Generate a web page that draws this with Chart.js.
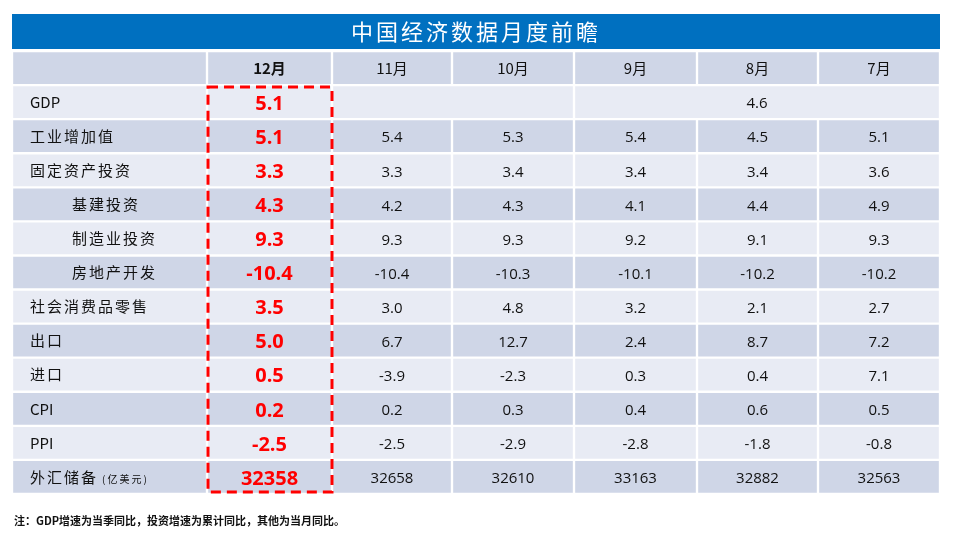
<!DOCTYPE html>
<html><head><meta charset="utf-8">
<script src="https://cdn.jsdelivr.net/npm/chart.js@4"></script>
<style>body{margin:0;background:#fff}#wrap{width:960px;height:540px}</style>
</head><body><div id="wrap"><canvas id="c"></canvas></div>
<script>
// table data
const months = ['12月', '11月', '10月', '9月', '8月', '7月'];
const rowLabels = ['GDP', '工业增加值', '固定资产投资', '基建投资', '制造业投资', '房地产开发',
  '社会消费品零售', '出口', '进口', 'CPI', 'PPI', '外汇储备'];
const indented = [false, false, false, true, true, true, false, false, false, false, false, false];
const dec = ['5.1', '5.1', '3.3', '4.3', '9.3', '-10.4', '3.5', '5.0', '0.5', '0.2', '-2.5', '32358'];
const nov = [null, '5.4', '3.3', '4.2', '9.3', '-10.4', '3.0', '6.7', '-3.9', '0.2', '-2.5', '32658'];
const oct = [null, '5.3', '3.4', '4.3', '9.3', '-10.3', '4.8', '12.7', '-2.3', '0.3', '-2.9', '32610'];
const sep = ['4.6', '5.4', '3.4', '4.1', '9.2', '-10.1', '3.2', '2.4', '0.3', '0.4', '-2.8', '33163'];
const aug = [null, '4.5', '3.4', '4.4', '9.1', '-10.2', '2.1', '8.7', '0.4', '0.6', '-1.8', '32882'];
const jul = [null, '5.1', '3.6', '4.9', '9.3', '-10.2', '2.7', '7.2', '7.1', '0.5', '-0.8', '32563'];
const columns = [dec, nov, oct, sep, aug, jul];
const title = '中国经济数据月度前瞻';
const note = '注：GDP增速为当季同比，投资增速为累计同比，其他为当月同比。';

// layout (chart x units)
const edges = [0, 195, 320, 440, 562, 685, 806, 928];
const rows = ['header'].concat(rowLabels);
const LIGHT = '#e8ebf4', DARK = '#cfd6e7';
const rowColor = (i) => (i === 0 ? DARK : (i % 2 === 1 ? LIGHT : DARK));

function spanFor(col, r) {
  // GDP row merged cells: 11月-10月 empty, 9月-7月 shows value
  if (r === 1 && col >= 1) {
    if (col === 1) return [edges[2], edges[4]];
    if (col === 3) return [edges[4], edges[7]];
    return null;
  }
  return [edges[col + 1], edges[col + 2]];
}

const datasets = [{
  data: rows.map(() => [edges[0], edges[1]]),
  backgroundColor: rows.map((_, i) => rowColor(i)),
}];
months.forEach((m, c) => {
  datasets.push({
    data: rows.map((_, r) => spanFor(c, r)),
    backgroundColor: rows.map((_, i) => rowColor(i)),
  });
});
datasets.forEach((d) => Object.assign(d, {
  borderColor: '#fff', borderWidth: 1.5, borderSkipped: false,
  barPercentage: 1, categoryPercentage: 1, grouped: false,
}));

const textPlugin = {
  id: 'tableText',
  afterDatasetsDraw(chart) {
    const { ctx, scales: { x, y } } = chart;
    ctx.save();
    // title bar
    ctx.fillStyle = '#0070c0';
    ctx.fillRect(x.getPixelForValue(0), 14, x.getPixelForValue(928) - x.getPixelForValue(0), 35);
    ctx.fillStyle = '#fff';
    ctx.font = '22px "Noto Sans CJK SC"';
    ctx.textAlign = 'center';
    ctx.textBaseline = 'middle';
    ctx.letterSpacing = '3px';
    ctx.fillText(title, x.getPixelForValue(464), 32);
    ctx.letterSpacing = '0px';
    // header
    const hy = y.getPixelForValue(0);
    months.forEach((m, c) => {
      ctx.fillStyle = '#111';
      ctx.font = (c === 0 ? 'bold ' : '') + '15px "Noto Sans CJK SC"';
      ctx.fillText(m, x.getPixelForValue((edges[c + 1] + edges[c + 2]) / 2), hy);
    });
    // row labels
    rowLabels.forEach((lab, i) => {
      const py = y.getPixelForValue(i + 1);
      ctx.textAlign = 'left';
      ctx.fillStyle = '#111';
      ctx.font = '15px "Noto Sans CJK SC"';
      ctx.letterSpacing = lab.match(/^[A-Z]+$/) ? '0px' : '2px';
      ctx.fillText(lab, x.getPixelForValue(indented[i] ? 60 : 18), py);
      if (i === rowLabels.length - 1) {
        const w = ctx.measureText(lab).width;
        ctx.font = '10px "Noto Sans CJK SC"';
        ctx.fillText('(亿美元)', x.getPixelForValue(18) + w + 4, py + 2);
      }
      ctx.letterSpacing = '0px';
    });
    // values
    ctx.textAlign = 'center';
    columns.forEach((vals, c) => {
      vals.forEach((v, r) => {
        if (v == null) return;
        const span = spanFor(c, r + 1);
        const cx = x.getPixelForValue((span[0] + span[1]) / 2);
        const py = y.getPixelForValue(r + 1);
        if (c === 0) {
          ctx.fillStyle = '#ff0000';
          ctx.font = 'bold 20px "Open Sans"';
        } else {
          ctx.fillStyle = '#111';
          ctx.font = '15px "Open Sans"';
        }
        ctx.fillText(v, cx, py + 2);
      });
    });
    // red dashed box around 12月
    const top = y.getPixelForValue(1) - 15;
    const bot = y.getPixelForValue(rows.length - 1) + 15;
    ctx.strokeStyle = '#ff0000';
    ctx.lineWidth = 3;
    ctx.setLineDash([10, 6]);
    ctx.strokeRect(x.getPixelForValue(edges[1]) + 1, top, x.getPixelForValue(edges[2]) - x.getPixelForValue(edges[1]) - 1, bot - top);
    ctx.setLineDash([]);
    // footnote
    ctx.textAlign = 'left';
    ctx.fillStyle = '#111';
    ctx.font = 'bold 11px "Noto Sans CJK SC"';
    ctx.fillText(note, 14, 521);
    ctx.restore();
  },
};

new Chart(document.getElementById('c'), {
  type: 'bar',
  data: { labels: rows, datasets },
  options: {
    indexAxis: 'y',
    responsive: true,
    maintainAspectRatio: false,
    animation: false,
    layout: { padding: { left: 12, right: 20, top: 51, bottom: 46 } },
    plugins: { legend: { display: false }, tooltip: { enabled: false } },
    scales: {
      x: { type: 'linear', min: 0, max: 928, display: false },
      y: { type: 'category', display: false },
    },
  },
  plugins: [textPlugin],
});
</script></body></html>
